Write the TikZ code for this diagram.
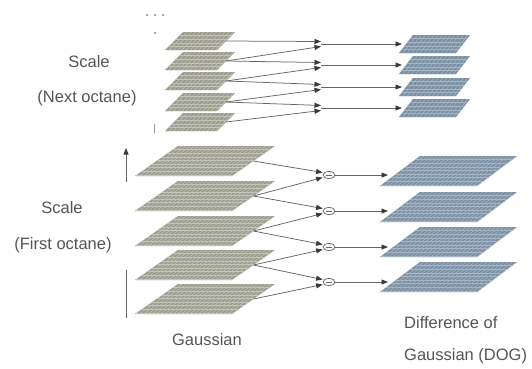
\documentclass[tikz,border=0pt]{standalone}
\usepackage{fontspec}
\setmainfont{Liberation Sans}
\usetikzlibrary{arrows.meta,shapes.geometric}

\definecolor{gaussfill}{HTML}{9B9C8E}
\definecolor{gaussgrid}{HTML}{C3C4B8}
\definecolor{dogfill}{HTML}{7A8FA2}
\definecolor{doggrid}{HTML}{A6B5C3}
\definecolor{linkc}{HTML}{666666}
\definecolor{tipc}{HTML}{3A3A3A}
\definecolor{labelc}{HTML}{555555}

% one image plane: #1 x, #2 y (top-left corner), #3 width, #4 height,
% #5 slant, #6 colour prefix, #7 name of its right-hand anchor
\newcommand{\plate}[7]{%
  \fill[#6fill] (#1,#2) -- ++(#3,0) -- ++(-#5,#4) -- ++(-#3,0) -- cycle;
  \begin{scope}
    \clip (#1,#2) -- ++(#3,0) -- ++(-#5,#4) -- ++(-#3,0) -- cycle;
    \pgfmathtruncatemacro{\nh}{#4/3.6}
    \foreach \k in {1,...,\nh}
      \draw[#6grid, line width=0.5pt] (#1-#5-2,#2+\k*3.6) -- ++(#3+#5+4,0);
    \pgfmathtruncatemacro{\nv}{(#3+#5)/4.2}
    \foreach \k in {0,...,\nv}
      \draw[#6grid, line width=0.5pt] (#1-#5+\k*4.2,#2+#4) -- ++(#5,-#4);
  \end{scope}
  \coordinate (#7) at (#1+#3-0.5*#5,#2+0.5*#4);
}

\tikzset{
  lab/.style={font=\fontsize{16.5}{18}\selectfont, text=labelc, inner sep=0pt},
  link/.style={draw=linkc, line width=0.75pt},
  linkarrow/.style={link, -{Triangle[length=6.5pt,width=5pt,color=tipc]}},
  minusnode/.style={ellipse, draw=linkc, line width=0.75pt, minimum width=12pt,
    minimum height=7pt, inner sep=0pt},
}

\begin{document}
\begin{tikzpicture}[x=1pt,y=-1pt]
\useasboundingbox (0,0) rectangle (532,368);

% ---- next octave: Gaussian planes
\plate{183}{32}{52}{18}{18}{gauss}{ga1}
\plate{183}{52}{52}{18}{18}{gauss}{ga2}
\plate{183}{72}{52}{18}{18}{gauss}{ga3}
\plate{183}{93}{52}{18}{18}{gauss}{ga4}
\plate{183}{113}{52}{18}{18}{gauss}{ga5}

% ---- next octave: DoG planes
\plate{413}{35}{57}{18}{14}{dog}{da1}
\plate{413}{56}{57}{18}{14}{dog}{da2}
\plate{413}{78}{57}{18}{14}{dog}{da3}
\plate{413}{99}{57}{18}{14}{dog}{da4}

% ---- first octave: Gaussian planes
\plate{178}{146}{97}{30}{43}{gauss}{gb1}
\plate{178}{181}{97}{30}{43}{gauss}{gb2}
\plate{178}{216}{97}{30}{43}{gauss}{gb3}
\plate{178}{250}{97}{30}{43}{gauss}{gb4}
\plate{178}{284}{97}{30}{43}{gauss}{gb5}

% ---- first octave: DoG planes
\plate{420}{156}{97}{30}{40}{dog}{db1}
\plate{420}{192}{97}{30}{40}{dog}{db2}
\plate{420}{227}{97}{30}{40}{dog}{db3}
\plate{420}{262}{97}{30}{40}{dog}{db4}

% ---- junctions of the next octave
\coordinate (ja1) at (321,44);
\coordinate (ja2) at (321,65);
\coordinate (ja3) at (321,87);
\coordinate (ja4) at (321,108);
\coordinate (ea1) at (402,44);
\coordinate (ea2) at (402,65);
\coordinate (ea3) at (402,87);
\coordinate (ea4) at (402,108);

\foreach \i [evaluate=\i as \n using int(\i+1)] in {1,2,3,4}{
  \draw[linkarrow] (ga\i) -- ([yshift=2.5pt]ja\i);
  \draw[linkarrow] (ga\n) -- ([yshift=-2.5pt]ja\i);
  \draw[linkarrow] (ja\i) -- (ea\i);
}

% ---- subtraction nodes of the first octave
\node[minusnode] (m1) at (329,175) {};
\node[minusnode] (m2) at (329,211) {};
\node[minusnode] (m3) at (329,247) {};
\node[minusnode] (m4) at (329,282) {};
\coordinate (eb1) at (388,175);
\coordinate (eb2) at (388,211);
\coordinate (eb3) at (388,247);
\coordinate (eb4) at (388,282);

\foreach \i [evaluate=\i as \n using int(\i+1)] in {1,2,3,4}{
  \draw[link] ([xshift=-3pt]m\i.center) -- ([xshift=3pt]m\i.center);
  \draw[linkarrow] (gb\i) -- ([yshift=2.5pt]m\i.west);
  \draw[linkarrow] (gb\n) -- ([yshift=-2.5pt]m\i.west);
  \draw[linkarrow] (m\i.east) -- (eb\i);
}

% ---- scale direction marks
\coordinate (up0) at (126,182);
\coordinate (up1) at (126,148);
\draw[linkarrow] (up0) -- (up1);
\coordinate (bar0) at (126,270);
\coordinate (bar1) at (126,318);
\draw[link] (bar0) -- (bar1);
\coordinate (tick0) at (154,124);
\coordinate (tick1) at (154,133);
\draw[draw=linkc!70, line width=1pt] (tick0) -- (tick1);

% continuation dots
\fill[linkc!80] (147,15) circle (1.1) (155,15) circle (1.1) (163,15) circle (1.1);
\fill[linkc!80] (155,33) circle (1.1);

% ---- labels
\node[lab] (sn) at (89,62) {Scale};
\node[lab] (on) at (87,98) {(Next octane)};
\node[lab] (sf) at (62,208) {Scale};
\node[lab] (of) at (63,245) {(First octane)};
\node[lab] (lg) at (207,340) {Gaussian};
\node[lab, anchor=west] (ld1) at (404,323) {Difference of};
\node[lab, anchor=west] (ld2) at (404,356) {Gaussian (DOG)};
\end{tikzpicture}
\end{document}
